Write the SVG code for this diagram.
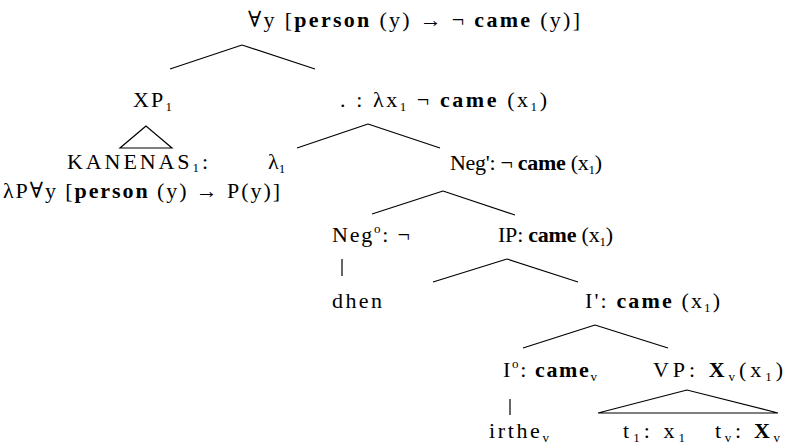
<svg xmlns="http://www.w3.org/2000/svg" width="787" height="448" viewBox="0 0 787 448">
<style>
text { font-family: "Liberation Serif", "Times New Roman", Times, "DejaVu Serif", serif; font-size: 22px; fill: #000; }
.b { font-weight: bold; }
.s { font-size: 13px; }
line, polygon { stroke: #000; stroke-width: 1.2; fill: none; }
</style>
<rect width="787" height="448" fill="#fff"/>
<g id="edges">
<line x1="242" y1="45" x2="170" y2="69"/>
<line x1="242" y1="45" x2="315" y2="69"/>
<line x1="368" y1="124" x2="297" y2="148"/>
<line x1="368" y1="124" x2="440" y2="148"/>
<line x1="443" y1="191" x2="372" y2="214"/>
<line x1="443" y1="191" x2="515" y2="215"/>
<line x1="342" y1="259" x2="342" y2="276"/>
<line x1="507" y1="259" x2="433" y2="282"/>
<line x1="507" y1="259" x2="578" y2="282"/>
<line x1="595" y1="325" x2="523" y2="348"/>
<line x1="595" y1="325" x2="668" y2="348"/>
<line x1="510" y1="399" x2="510" y2="415"/>
<polygon points="146,126 120,148 172,148"/>
<polygon points="687,390 598,413 778,413"/>
</g>
<g id="root"><text x="248" y="27" textLength="332" lengthAdjust="spacing">∀y [<tspan class="b">person</tspan> (y) → ¬ <tspan class="b">came</tspan> (y)]</text></g>
<g id="xp"><text x="133" y="107" textLength="39" lengthAdjust="spacing">XP<tspan class="s" dy="4">1</tspan></text></g>
<g id="lambda-node"><text x="340" y="107" textLength="207" lengthAdjust="spacing">. : λx<tspan class="s" dy="4">1</tspan><tspan dy="-4"> ¬ </tspan><tspan class="b">came</tspan> (x<tspan class="s" dy="4">1</tspan><tspan dy="-4">)</tspan></text></g>
<g id="kanenas"><text x="67" y="169" textLength="141" lengthAdjust="spacing">KANENAS<tspan class="s" dy="3">1</tspan><tspan dy="-3">:</tspan></text>
<text x="3" y="198" textLength="277" lengthAdjust="spacing">λP∀y [<tspan class="b">person</tspan> (y) → P(y)]</text></g>
<g id="lambda1"><text x="268" y="169">λ<tspan class="s" dy="4">1</tspan></text></g>
<g id="negbar"><text x="450" y="170" textLength="152" lengthAdjust="spacing">Neg': ¬ <tspan class="b">came</tspan> (x<tspan class="s" dy="4">1</tspan><tspan dy="-4">)</tspan></text></g>
<g id="neg0"><text x="332" y="242" textLength="78" lengthAdjust="spacing">Neg<tspan class="s" dy="-9">o</tspan><tspan dy="9">: ¬</tspan></text></g>
<g id="dhen"><text x="332" y="308" textLength="50" lengthAdjust="spacing">dhen</text></g>
<g id="ip"><text x="498" y="242" textLength="115" lengthAdjust="spacing">IP: <tspan class="b">came</tspan> (x<tspan class="s" dy="4">1</tspan><tspan dy="-4">)</tspan></text></g>
<g id="ibar"><text x="585" y="308" textLength="135" lengthAdjust="spacing">I': <tspan class="b">came</tspan> (x<tspan class="s" dy="4">1</tspan><tspan dy="-4">)</tspan></text></g>
<g id="i0"><text x="503" y="377" textLength="94" lengthAdjust="spacing">I<tspan class="s" dy="-9">o</tspan><tspan dy="9">: </tspan><tspan class="b">came</tspan><tspan class="s" dy="4">v</tspan></text></g>
<g id="vp"><text x="653" y="377" textLength="130" lengthAdjust="spacing">VP: <tspan class="b">X</tspan><tspan class="s" dy="4">v</tspan><tspan dy="-4">(x</tspan><tspan class="s" dy="4">1</tspan><tspan dy="-4">)</tspan></text></g>
<g id="irthe"><text x="489" y="438" textLength="60" lengthAdjust="spacing">irthe<tspan class="s" dy="4">v</tspan></text></g>
<g id="t1"><text x="623" y="438" textLength="62" lengthAdjust="spacing">t<tspan class="s" dy="4">1</tspan><tspan dy="-4">: x</tspan><tspan class="s" dy="4">1</tspan></text></g>
<g id="tv"><text x="715" y="438" textLength="65" lengthAdjust="spacing">t<tspan class="s" dy="4">v</tspan><tspan dy="-4">: </tspan><tspan class="b">X</tspan><tspan class="s" dy="4">v</tspan></text></g>
</svg>
